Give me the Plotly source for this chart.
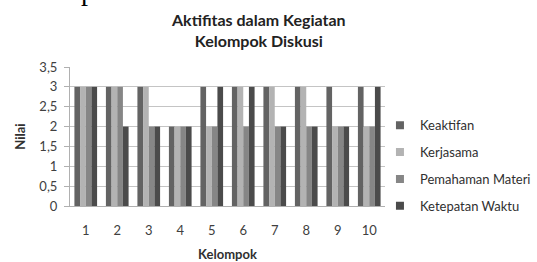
import plotly.graph_objects as go

categories = ["1", "2", "3", "4", "5", "6", "7", "8", "9", "10"]
series_names = ["Keaktifan", "Kerjasama", "Pemahaman Materi", "Ketepatan Waktu"]
keaktifan = [3, 3, 3, 2, 3, 3, 3, 3, 3, 3]
kerjasama = [3, 3, 3, 2, 2, 3, 3, 3, 2, 2]
pemahaman = [3, 3, 2, 2, 2, 2, 2, 2, 2, 2]
ketepatan = [3, 2, 2, 2, 3, 3, 2, 2, 2, 3]
y_ticks = [0, 0.5, 1, 1.5, 2, 2.5, 3, 3.5]
y_tick_labels = ["0", "0,5", "1", "1,5", "2", "2,5", "3", "3,5"]
colors = ["#636363", "#b3b3b3", "#868686", "#4b4b4b"]

FONT = "Lato, 'Open Sans', sans-serif"

fig = go.Figure()
for name, vals, col in zip(series_names, [keaktifan, kerjasama, pemahaman, ketepatan], colors):
    fig.add_trace(go.Bar(x=categories, y=vals, name=name, marker_color=col,
                         marker_line_width=0, showlegend=False))
    fig.add_trace(go.Scatter(x=[None], y=[None], mode="markers", name=name,
                             marker=dict(symbol="square", size=8, color=col),
                             legendgroup=name, showlegend=True))

fig.update_layout(
    width=537, height=262,
    margin=dict(l=70, r=152, t=67, b=56, autoexpand=False),
    paper_bgcolor="white", plot_bgcolor="white",
    barmode="group", bargap=0.28, bargroupgap=0,
    font=dict(family=FONT, size=13, color="#404040"),
    title=dict(text="<b>Aktifitas dalam Kegiatan<br>Kelompok Diskusi</b>",
               x=0.482, xanchor="center", y=0.90, yanchor="top",
               font=dict(family=FONT, size=16, color="#222222")),
    legend=dict(x=0.984, xanchor="left", y=0.29, yanchor="middle",
                font=dict(family=FONT, size=13, color="#303030"),
                tracegroupgap=7, itemwidth=30, bgcolor="rgba(0,0,0,0)"),
    showlegend=True,
)
fig.update_xaxes(showline=True, linecolor="#b0b0b0", linewidth=1, ticks="",
                 tickfont=dict(size=13, color="#404040"), ticklabelstandoff=12,
                 title=dict(text="<b>Kelompok</b>", font=dict(size=13, color="#303030"), standoff=16))
fig.update_yaxes(range=[0, 3.5], tickvals=y_ticks, ticktext=y_tick_labels,
                 showgrid=True, gridcolor="#c4c4c4", gridwidth=1,
                 showline=True, linecolor="#b0b0b0", linewidth=1,
                 ticks="outside", ticklen=5, tickcolor="#b0b0b0",
                 tickfont=dict(size=13, color="#404040"), zeroline=False, ticklabelstandoff=4,
                 title=dict(text="<b>Nilai</b>", font=dict(size=13, color="#303030"), standoff=10))
fig.add_annotation(text="p", xref="paper", yref="paper", x=0.057, y=(206 + 9.5) / 139,
                   xanchor="center", yanchor="middle", showarrow=False,
                   font=dict(family="Liberation Serif", size=28, color="black"))

fig.write_html("out.html", config={"displayModeBar": False},
               post_script="document.body.style.margin='0';document.body.style.overflow='hidden';")
